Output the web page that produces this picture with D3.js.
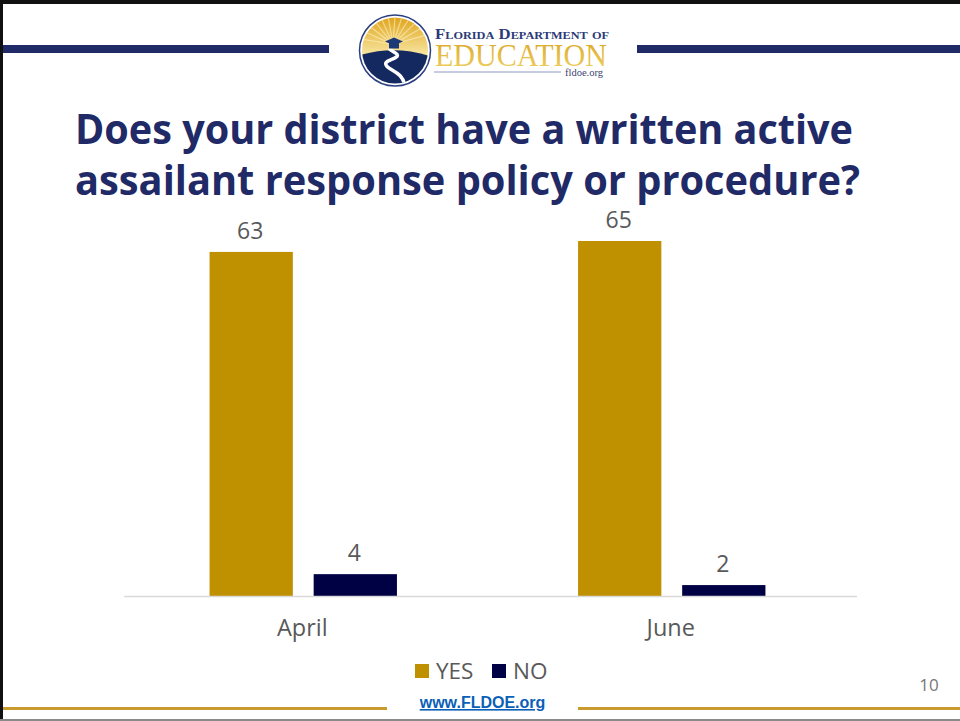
<!DOCTYPE html>
<html><head><meta charset="utf-8">
<script src="https://cdn.jsdelivr.net/npm/d3@7"></script>
<style>html,body{margin:0;padding:0;background:#fff}svg{display:block}</style>
</head><body><svg id="c" width="960" height="721"></svg>
<script>
const categories = ["April","June"];
const seriesNames = ["YES","NO"];
const yesValues = [63,65];
const noValues = [4,2];
const titleLines = ["Does your district have a written active","assailant response policy or procedure?"];
const titleWidths = [778,785];
const colors = {YES:"#bf9000",NO:"#000045"};

const svg = d3.select("#c");
const W=960,H=721;
svg.append("rect").attr("width",W).attr("height",H).attr("fill","#fff");

// slide frame
svg.append("rect").attr("x",0).attr("y",0).attr("width",W).attr("height",4).attr("fill","#111");
svg.append("rect").attr("x",0).attr("y",0).attr("width",3).attr("height",H).attr("fill","#111");
svg.append("rect").attr("x",0).attr("y",719).attr("width",W).attr("height",2).attr("fill","#8a8a8a");

// header bars
svg.append("rect").attr("x",3).attr("y",45).attr("width",326).attr("height",8).attr("fill","#1f2a66");
svg.append("rect").attr("x",637).attr("y",45).attr("width",323).attr("height",8).attr("fill","#1f2a66");

// logo
const logo = svg.append("g").attr("transform","translate(395,50.5)");
const defs = svg.append("defs");
const g1 = defs.append("linearGradient").attr("id","sun").attr("x1",0).attr("x2",0).attr("y1",0).attr("y2",1);
g1.append("stop").attr("offset",0).attr("stop-color","#dfa31c");
g1.append("stop").attr("offset",1).attr("stop-color","#f9e9a6");
const g2 = defs.append("linearGradient").attr("id","edu").attr("x1",0).attr("x2",0).attr("y1",0).attr("y2",1);
g2.append("stop").attr("offset",0).attr("stop-color","#d9a21f");
g2.append("stop").attr("offset",1).attr("stop-color","#f0d468");
defs.append("clipPath").attr("id","disc").append("circle").attr("r",33);
logo.append("circle").attr("r",35.5).attr("fill","#fff").attr("stroke","#2c3f80").attr("stroke-width",1.5);
const inner = logo.append("g").attr("clip-path","url(#disc)");
inner.append("rect").attr("x",-34).attr("y",-34).attr("width",68).attr("height",40).attr("fill","url(#sun)");
d3.range(-80,81,14).forEach(a=>{
  const r=a*Math.PI/180;
  inner.append("line").attr("x1",-2).attr("y1",-6).attr("x2",-2+34*Math.sin(r)).attr("y2",-6-34*Math.cos(r))
    .attr("stroke","#fff6cf").attr("stroke-width",1.2).attr("opacity",.55);
});
inner.append("path").attr("d","M-36,5 Q0,-6 36,6 L36,36 L-36,36 Z").attr("fill","#14295f");
inner.append("path").attr("d","M-6,-2 C-2,2 4,3 2,6 C-2,10 -13,10 -8,16 C-3,21 8,22 10,36")
  .attr("fill","none").attr("stroke","#fff").attr("stroke-width",3.5);
logo.append("path").attr("d","M-10,-9 L-1,-13 L8,-9 L-1,-5 Z").attr("fill","#1d3a78");
logo.append("rect").attr("x",-6).attr("y",-8).attr("width",10).attr("height",6).attr("fill","#1d3a78");

svg.append("text").attr("x",435).attr("y",39).attr("font-family","Liberation Serif").attr("font-size",15)
  .attr("font-weight",700).attr("style","font-variant:small-caps")
  .attr("fill","#2b3a78").attr("textLength",174).attr("lengthAdjust","spacingAndGlyphs").text("Florida Department of");
svg.append("text").attr("x",435).attr("y",66).attr("font-family","Liberation Serif").attr("font-size",32)
  .attr("fill","url(#edu)").attr("textLength",172).attr("lengthAdjust","spacingAndGlyphs").text("EDUCATION");
svg.append("line").attr("x1",434).attr("x2",561).attr("y1",72).attr("y2",72).attr("stroke","#8f97c0").attr("stroke-width",1.2);
svg.append("text").attr("x",565).attr("y",76).attr("font-family","Liberation Serif").attr("font-size",10.5)
  .attr("fill","#3c4470").text("fldoe.org");

// title
svg.selectAll("text.title").data(titleLines).join("text").attr("class","title")
  .attr("x",75).attr("y",(d,i)=>144+i*51)
  .attr("font-family","'Open Sans'").attr("font-weight",700).attr("font-size",41)
  .attr("textLength",(d,i)=>titleWidths[i]).attr("lengthAdjust","spacingAndGlyphs")
  .attr("fill","#1f2a66").text(d=>d);

// scales
const baseY=596;
const y = d3.scaleLinear().domain([0,65]).range([baseY,241]);
const x0 = d3.scaleBand().domain(categories).range([119,856]);
const x1 = d3.scaleBand().domain(seriesNames).range([0,x0.bandwidth()]).paddingInner(.2).paddingOuter(.87);
const rows = categories.map((c,i)=>({cat:c,vals:[{k:"YES",v:yesValues[i]},{k:"NO",v:noValues[i]}]}));

const groups = svg.selectAll("g.grp").data(rows).join("g").attr("class","grp")
  .attr("transform",d=>`translate(${x0(d.cat)},0)`);
groups.selectAll("rect").data(d=>d.vals).join("rect")
  .attr("x",d=>x1(d.k)).attr("width",x1.bandwidth())
  .attr("y",d=>y(d.v)).attr("height",d=>baseY-y(d.v)).attr("fill",d=>colors[d.k]);
groups.selectAll("text").data(d=>d.vals).join("text")
  .attr("x",d=>x1(d.k)+x1.bandwidth()/2-1).attr("y",d=>y(d.v)-13)
  .attr("text-anchor","middle").attr("font-family","'Open Sans'").attr("font-size",23)
  .attr("fill","#595959").text(d=>d.v);

// axis
svg.append("line").attr("x1",124).attr("x2",857).attr("y1",596.5).attr("y2",596.5).attr("stroke","#d9d9d9").attr("stroke-width",1.5);
svg.selectAll("text.cat").data(categories).join("text").attr("class","cat")
  .attr("x",d=>x0(d)+x0.bandwidth()/2-1).attr("y",636).attr("text-anchor","middle")
  .attr("font-family","'Open Sans'").attr("font-size",23.5).attr("fill","#595959").text(d=>d);

// legend
const swatchX = {YES:415,NO:492};
const labelX = {YES:436,NO:513};
const leg = svg.selectAll("g.leg").data(seriesNames).join("g").attr("class","leg");
leg.append("rect").attr("x",d=>swatchX[d]).attr("y",664).attr("width",14).attr("height",14).attr("fill",d=>colors[d]);
leg.append("text").attr("x",d=>labelX[d]).attr("y",679).attr("font-family","'Open Sans'").attr("font-size",22.5)
  .attr("fill","#595959").text(d=>d);

// footer
svg.append("text").attr("x",482.5).attr("y",708).attr("text-anchor","middle").attr("font-family","'Liberation Sans'")
  .attr("font-weight",700).attr("font-size",16).attr("fill","#0b5fb8").attr("text-decoration","underline").text("www.FLDOE.org");
svg.append("text").attr("x",929).attr("y",691).attr("text-anchor","middle").attr("font-family","'Open Sans'")
  .attr("font-size",17).attr("fill","#777").text("10");
svg.append("rect").attr("x",3).attr("y",707).attr("width",384).attr("height",3).attr("fill","#c99a2e");
svg.append("rect").attr("x",578).attr("y",707).attr("width",382).attr("height",3).attr("fill","#c99a2e");
</script></body></html>
